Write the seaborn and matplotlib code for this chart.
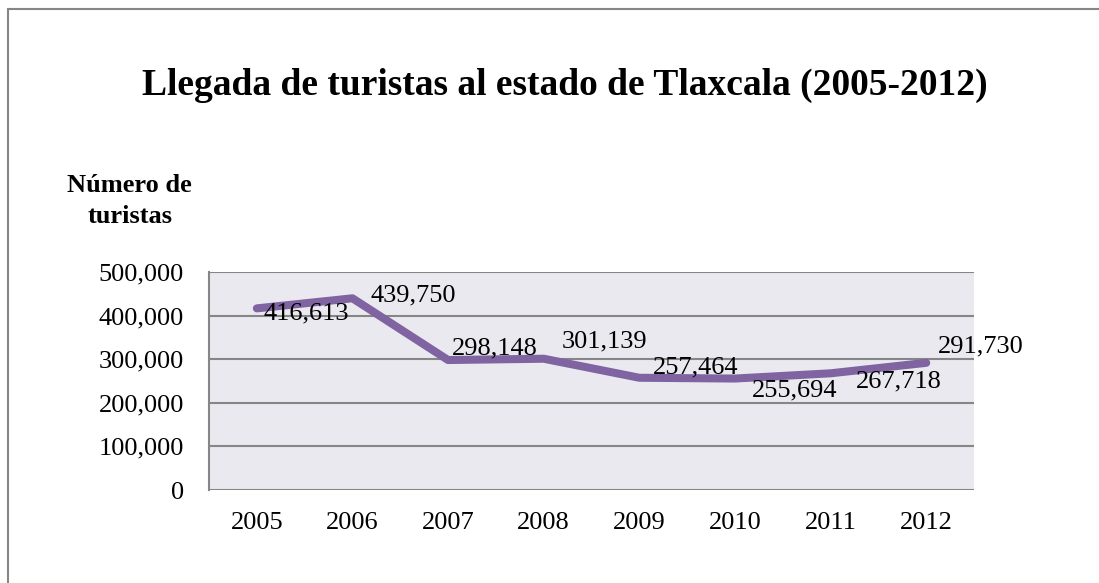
import matplotlib
matplotlib.use("Agg")
import matplotlib.pyplot as plt
from matplotlib.lines import Line2D
import seaborn as sns
import pandas as pd

# Data
years = ["2005", "2006", "2007", "2008", "2009", "2010", "2011", "2012"]
tourists = [416613, 439750, 298148, 301139, 257464, 255694, 267718, 291730]
y_ticks = [0, 100000, 200000, 300000, 400000, 500000]

# Label offsets in pixels (dx, dy) relative to each point
label_offsets = [(7, -5), (18, 3), (4, 12), (18, 17), (14, 10), (17, -12), (25, -8), (12, 16)]

df = pd.DataFrame({"year": years, "tourists": tourists})

sns.set_style("white")
plt.rcParams["font.family"] = ["Liberation Serif", "DejaVu Serif"]
plt.rcParams["text.color"] = "black"

fig = plt.figure(figsize=(10.99, 5.83), dpi=100)
ax = fig.add_axes([0.1902, 0.1595, 0.6961, 0.3739])
ax.set_facecolor("#EBE9F0")

sns.lineplot(data=df, x="year", y="tourists", ax=ax, color="#8064A2",
             linewidth=5.8, solid_capstyle="round", solid_joinstyle="round")

# Data labels
for i, (val, (dx, dy)) in enumerate(zip(tourists, label_offsets)):
    ax.annotate(f"{val:,}", xy=(i, val), xytext=(dx, dy), textcoords="offset pixels",
                ha="left", va="center", fontsize=19, color="black")

ax.set_xlim(-0.5, len(years) - 0.5)
ax.set_ylim(0, 500000)
ax.set_yticks(y_ticks)
ax.set_yticklabels([f"{t:,}" for t in y_ticks])
ax.yaxis.grid(True, color="#868686", linewidth=1.5)
ax.set_axisbelow(True)
ax.tick_params(axis="both", length=0, labelsize=19, colors="black")
ax.tick_params(axis="y", pad=18)
ax.tick_params(axis="x", pad=16)
ax.set_xlabel("")
ax.set_ylabel("")

for side in ["top", "right", "bottom"]:
    ax.spines[side].set_visible(False)
ax.spines["left"].set_color("#868686")
ax.spines["left"].set_linewidth(1.5)

# Title and axis label
fig.text(0.514, 0.838, "Llegada de turistas al estado de Tlaxcala (2005-2012)",
         ha="center", va="baseline", fontsize=27, fontweight="bold", color="black")
fig.text(0.118, 0.655, "Número de\nturistas", ha="center", va="center",
         fontsize=19, fontweight="bold", linespacing=1.45, color="black")

# Outer frame (top and left edges only)
fig.add_artist(Line2D([8 / 1099, 1], [1 - 9 / 583, 1 - 9 / 583], color="#868686", linewidth=1.5))
fig.add_artist(Line2D([8 / 1099, 8 / 1099], [0, 1 - 9 / 583], color="#868686", linewidth=1.5))

fig.savefig("out.png", dpi=100, facecolor="white")
